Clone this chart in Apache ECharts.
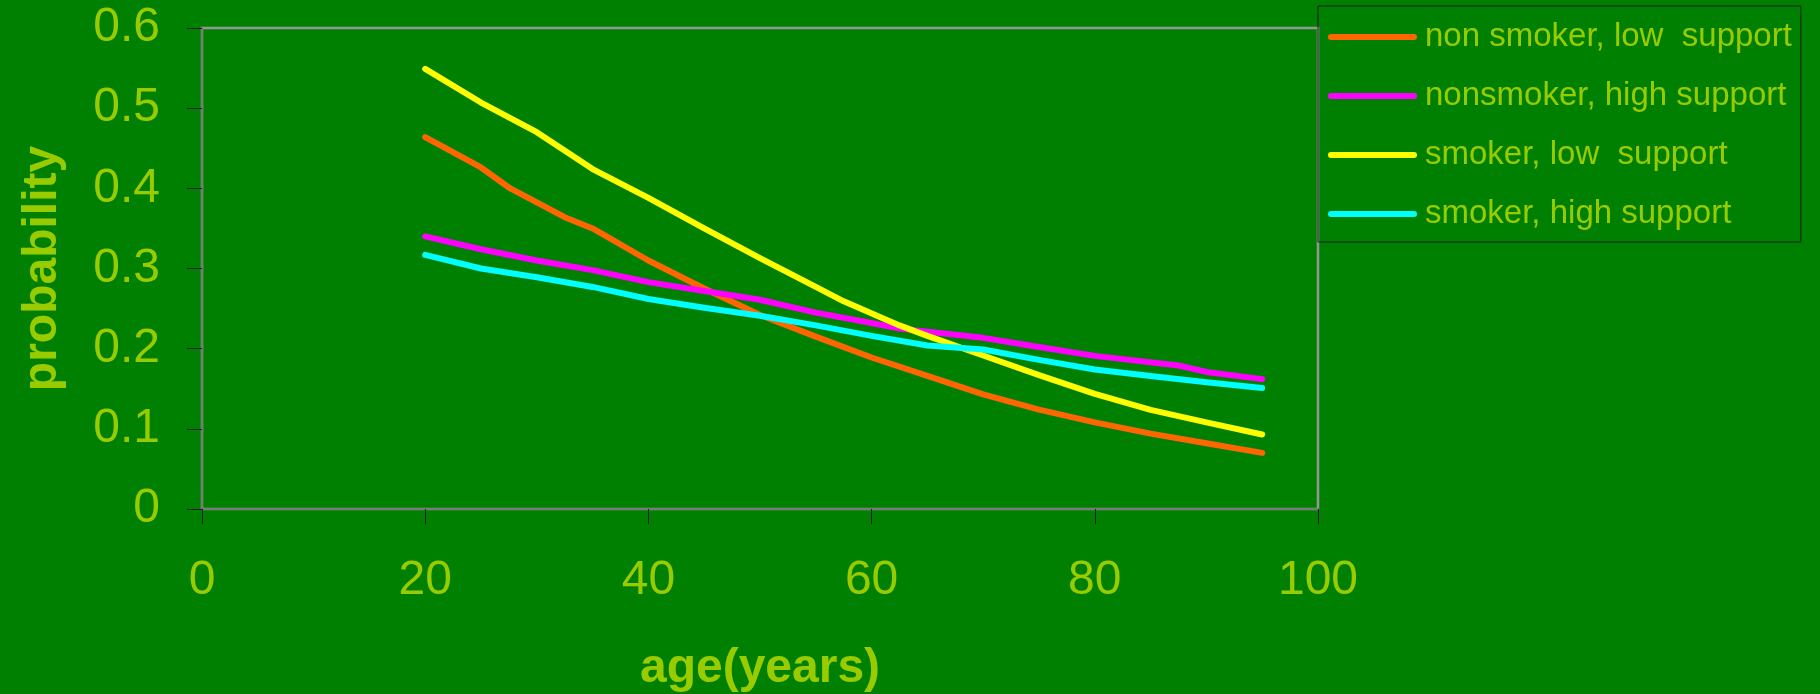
<!DOCTYPE html>
<html>
<head>
<meta charset="utf-8">
<script src="https://cdn.jsdelivr.net/npm/echarts@6/dist/echarts.min.js"></script>
<style>
html,body{margin:0;padding:0;background:#008000;}
#chart{width:1820px;height:694px;}
</style>
</head>
<body>
<div id="chart"></div>
<script>
// ---- data ----
var seriesNames = ['non smoker, low  support', 'nonsmoker, high support', 'smoker, low  support', 'smoker, high support'];
var seriesColors = ['#ff6600', '#ff00ff', '#ffff00', '#00ffff'];

var agesNonSmokerLow = [20, 25, 27.5, 32.5, 35, 40, 45, 50, 55, 60, 65, 70, 75, 80, 85, 90, 95];
var nonSmokerLow     = [0.464, 0.426, 0.401, 0.364, 0.350, 0.310, 0.275, 0.242, 0.215, 0.189, 0.166, 0.143, 0.124, 0.108, 0.094, 0.082, 0.070];

var agesNonSmokerHigh = [20, 25, 30, 35, 40, 45, 50, 55, 60, 62.5, 70, 75, 80, 87.5, 90, 95];
var nonSmokerHigh     = [0.340, 0.324, 0.310, 0.298, 0.283, 0.272, 0.261, 0.245, 0.232, 0.225, 0.2135, 0.202, 0.191, 0.179, 0.171, 0.162];

var agesSmokerLow = [20, 25, 30, 35, 40, 45, 50, 55, 57.5, 62.5, 65, 70, 75, 80, 85, 90, 95];
var smokerLow     = [0.549, 0.507, 0.470, 0.424, 0.388, 0.350, 0.313, 0.277, 0.259, 0.229, 0.216, 0.1915, 0.167, 0.1437, 0.1237, 0.108, 0.093];

var agesSmokerHigh = [20, 25, 30, 35, 40, 45, 50, 55, 60, 65, 70, 75, 80, 85, 90, 95];
var smokerHigh     = [0.317, 0.300, 0.289, 0.277, 0.262, 0.251, 0.241, 0.229, 0.216, 0.204, 0.199, 0.186, 0.174, 0.166, 0.158, 0.151];

var xTicks = {min: 0, max: 100, interval: 20};
var yTicks = {min: 0, max: 0.6, interval: 0.1};
var xTitle = 'age(years)';
var yTitle = 'probability';

function pairs(xs, ys) { return xs.map(function (x, i) { return [x, ys[i]]; }); }
var allData = [
  pairs(agesNonSmokerLow, nonSmokerLow),
  pairs(agesNonSmokerHigh, nonSmokerHigh),
  pairs(agesSmokerLow, smokerLow),
  pairs(agesSmokerHigh, smokerHigh)
];

var FONT = '"Liberation Sans", Arial, sans-serif';
var TXT = '#99cc00';
var LEGEND_ICON = 'path://M3,0 L86,0 A3,3 0 0 1 86,6 L3,6 A3,3 0 0 1 3,0 Z';

var chart = echarts.init(document.getElementById('chart'), null, {renderer: 'canvas'});
chart.setOption({
  backgroundColor: '#008000',
  animation: false,
  textStyle: {fontFamily: FONT},
  grid: {
    left: 202, top: 28, width: 1116, height: 481,
    containLabel: false, outerBoundsMode: 'none',
    show: true, borderColor: '#969696', borderWidth: 2.5, backgroundColor: 'transparent'
  },
  legend: {
    orient: 'vertical',
    left: 1318, top: 6,
    padding: [11, 9, 8, 10],
    itemGap: 19,
    itemWidth: 89, itemHeight: 6,
    icon: LEGEND_ICON,
    borderColor: '#1e1e1e', borderWidth: 1,
    backgroundColor: 'transparent',
    textStyle: {color: TXT, fontSize: 33, fontFamily: FONT, lineHeight: 40, padding: [0, 0, 0, 3]},
    data: seriesNames
  },
  xAxis: {
    type: 'value',
    min: xTicks.min, max: xTicks.max, interval: xTicks.interval,
    name: xTitle, nameLocation: 'middle', nameGap: 136,
    nameTextStyle: {color: TXT, fontSize: 48, fontWeight: 'bold', fontFamily: FONT, lineHeight: 48},
    axisLine: {show: true, onZero: false, lineStyle: {color: '#7a7a7a', width: 2}},
    axisTick: {show: true, inside: false, length: 15, lineStyle: {color: '#1a1a1a', width: 1}},
    axisLabel: {color: TXT, fontSize: 48, fontFamily: FONT, margin: 48, lineHeight: 48},
    splitLine: {show: false}
  },
  yAxis: {
    type: 'value',
    min: yTicks.min, max: yTicks.max, interval: yTicks.interval,
    name: yTitle, nameLocation: 'middle', nameGap: 135, nameRotate: 90,
    nameTextStyle: {color: TXT, fontSize: 48, fontWeight: 'bold', fontFamily: FONT, lineHeight: 48},
    axisLine: {show: true, onZero: false, lineStyle: {color: '#7a7a7a', width: 2}},
    axisTick: {show: true, inside: false, length: 15, lineStyle: {color: '#1a1a1a', width: 1}},
    axisLabel: {color: TXT, fontSize: 48, fontFamily: FONT, margin: 42},
    splitLine: {show: false}
  },
  series: seriesNames.map(function (name, i) {
    return {
      name: name,
      type: 'line',
      data: allData[i],
      symbol: 'none',
      smooth: false,
      color: seriesColors[i],
      lineStyle: {color: seriesColors[i], width: 6, cap: 'round', join: 'round'}
    };
  })
});
</script>
</body>
</html>
